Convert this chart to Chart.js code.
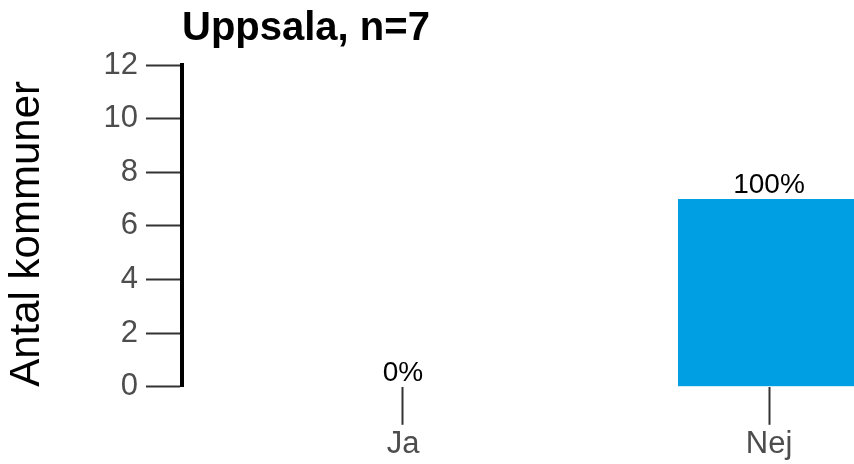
<!DOCTYPE html>
<html><head><meta charset="utf-8">
<script src="https://cdn.jsdelivr.net/npm/chart.js@4"></script>
<style>html,body{margin:0;padding:0;background:#fff}#wrap{width:854px;height:464px}</style>
</head><body><div id="wrap"><canvas id="c" width="854" height="464"></canvas></div>
<script>
const categories = ['Ja', 'Nej'];
const counts = [0, 7];
const pctLabels = ['0%', '100%'];
const yTicks = [0, 2, 4, 6, 8, 10, 12];
const chartTitle = 'Uppsala, n=7';
const yTitle = 'Antal kommuner';

const FONT = '"Liberation Sans", Arial, Helvetica, sans-serif';

const barLabels = {
  id: 'barLabels',
  afterDatasetsDraw(chart) {
    const ctx = chart.ctx;
    const meta = chart.getDatasetMeta(0);
    ctx.save();
    ctx.font = '28px ' + FONT;
    ctx.fillStyle = '#000';
    ctx.textAlign = 'center';
    ctx.textBaseline = 'alphabetic';
    meta.data.forEach((el, i) => { ctx.fillText(pctLabels[i], el.x, el.y - 6); });
    ctx.restore();
  }
};

new Chart(document.getElementById('c'), {
  type: 'bar',
  data: {
    datasets: [{
      data: categories.map((c, i) => ({ x: i, y: counts[i] })),
      backgroundColor: '#009fe3',
      borderWidth: 0,
      inflateAmount: 0,
      barThickness: 182
    }]
  },
  options: {
    responsive: false,
    animation: false,
    events: [],
    layout: { padding: 0 },
    plugins: {
      legend: { display: false },
      tooltip: { enabled: false },
      title: {
        display: true,
        text: chartTitle,
        align: 'start',
        fullSize: false,
        color: '#000',
        font: { family: FONT, size: 40, weight: 'bold', lineHeight: 1.2 },
        padding: { top: 5, bottom: 12 }
      }
    },
    scales: {
      x: {
        type: 'linear',
        offset: false,
        min: -0.6038,
        max: 1.2322,
        afterBuildTicks(scale) { scale.ticks = categories.map((c, i) => ({ value: i })); },
        ticks: {
          callback: (v) => categories[v],
          color: '#4d4d4d',
          font: { family: FONT, size: 31, lineHeight: 1.2 },
          padding: 1,
          maxRotation: 0,
          autoSkip: false
        },
        grid: {
          display: true,
          offset: false,
          drawOnChartArea: false,
          drawTicks: true,
          tickLength: 38,
          tickWidth: 2,
          tickColor: '#333'
        },
        border: { display: false }
      },
      y: {
        min: 0,
        max: 12,
        afterBuildTicks(scale) { scale.ticks = yTicks.map(v => ({ value: v })); },
        afterFit(scale) { scale.width = 182; },
        ticks: {
          color: '#4d4d4d',
          font: { family: FONT, size: 31, lineHeight: 1.2 },
          padding: 8
        },
        grid: {
          display: true,
          drawOnChartArea: false,
          drawTicks: true,
          tickLength: 36,
          tickWidth: 2,
          tickColor: '#333'
        },
        border: { display: true, color: '#000', width: 4 },
        title: {
          display: true,
          text: yTitle,
          align: 'start',
          color: '#000',
          font: { family: FONT, size: 42, lineHeight: 1.2 },
          padding: { top: 2, bottom: 0 }
        }
      }
    }
  },
  plugins: [barLabels]
});
</script>
</body></html>
